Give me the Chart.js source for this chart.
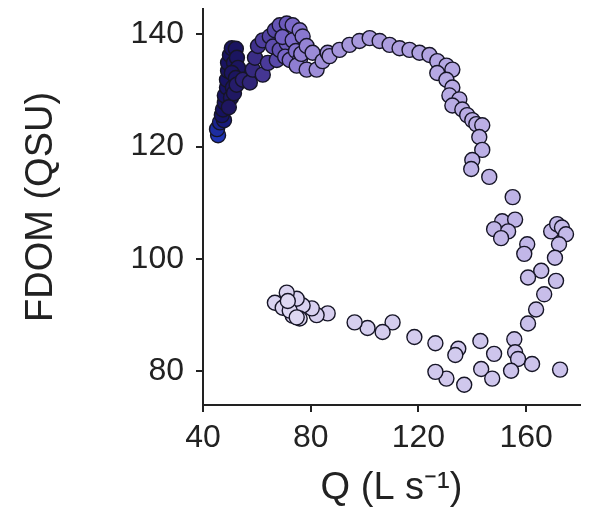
<!DOCTYPE html>
<html>
<head>
<meta charset="utf-8">
<script src="https://cdn.jsdelivr.net/npm/chart.js@4"></script>
<style>
  html, body { margin: 0; padding: 0; background: #ffffff; }
  canvas { display: block; }
</style>
</head>
<body>
<canvas id="c" width="590" height="516"></canvas>
<script>
// Discharge Q (L s^-1), in time order
const qValues = [
  45.6, 45.2, 46.3, 47.8, 47.0, 47.4, 48.1, 48.1, 48.9, 48.9, 49.3, 49.3, 50.0, 50.7, 52.2,
  51.5, 52.6, 53.0, 50.7, 52.2, 51.1, 50.4, 49.6, 51.5, 52.5,
  54.8, 57.4, 58.5, 59.3, 60.4, 62.2, 64.1, 62.2, 64.8, 66.7, 67.4, 66.0, 68.5, 68.5, 71.1, 71.1,
  69.5, 70.5, 73.3, 73.3, 72.2, 74.5, 75.9, 77.0, 76.0, 74.8, 76.5, 78.5, 78.5, 80.7, 82.2, 84.4, 86.3,
  87.0, 90.7, 94.4, 98.1, 101.9, 105.6, 109.3, 113.0, 116.7, 120.4, 124.1, 127.0, 130.4, 132.6,
  127.0, 130.4, 132.6, 131.5, 135.2, 132.6, 136.3, 138.1, 140.0, 141.5, 143.7, 142.6, 143.7,
  140.0, 139.6, 146.3, 155.0,
  151.1, 155.9, 148.1, 153.3, 150.7, 160.4, 159.3, 169.3, 171.5, 173.3, 174.8, 172.2, 170.7,
  165.6, 160.7, 171.1, 166.7, 163.7, 160.7,
  155.6, 155.9, 157.0, 162.2, 172.6, 154.4, 148.1, 143.0, 143.3, 147.4, 137.0, 130.4, 126.3,
  134.8, 133.7, 126.3, 118.5,
  110.4, 106.7, 101.1, 96.3, 86.3, 82.2, 80.4, 77.0, 74.8, 71.1, 66.7, 69.6, 73.3, 75.9, 72.2,
  74.8, 71.5
];
// FDOM (QSU), same order
const fdomValues = [
  122.0, 123.1, 124.3, 124.7, 125.6, 126.6, 127.8, 129.1, 130.5, 131.9, 133.5, 134.9, 136.3, 137.5, 137.4,
  134.9, 135.8, 134.0, 133.1, 132.2, 130.5, 128.7, 127.0, 129.5, 131.0,
  131.9, 131.4, 133.7, 135.8, 137.9, 132.8, 134.9, 138.9, 139.6, 140.7, 135.4, 137.8, 137.2, 141.6, 141.9, 138.4,
  139.5, 136.0, 141.6, 138.9, 135.4, 137.0, 140.7, 139.6, 135.5, 134.4, 136.5, 137.9, 133.7, 136.7, 133.7, 135.2, 136.7,
  136.1, 137.2, 138.1, 138.8, 139.3, 138.8, 138.1, 137.5, 137.2, 136.7, 136.3, 135.2, 134.4, 133.7,
  133.1, 131.9, 130.5, 129.1, 128.4, 127.3, 126.6, 125.6, 124.7, 124.0, 123.8, 121.7, 119.4,
  117.6, 116.0, 114.6, 111.0,
  106.7, 107.0, 105.3, 104.9, 103.7, 102.6, 100.9, 104.9, 106.2, 105.6, 104.4, 102.6, 100.2,
  97.9, 96.7, 96.1, 93.7, 91.0, 88.5,
  85.7, 83.4, 82.2, 81.3, 80.3, 80.1, 83.1, 85.4, 80.4, 78.7, 77.6, 78.7, 79.9,
  84.0, 82.9, 85.0, 86.1,
  88.7, 87.0, 87.7, 88.7, 90.3, 90.0, 91.2, 91.7, 92.9, 94.0, 92.2, 91.3, 89.9, 89.4, 90.8,
  89.6, 92.5
];
const xTickValues = [40, 80, 120, 160];
const yTickValues = [80, 100, 120, 140];
const xLabel = 'Q (L s\u207B\u00B9)';
const yLabel = 'FDOM (QSU)';

// colour ramp over time (style only)
const stops = [
  [0.00, [31, 53, 181]],
  [0.03, [22, 18, 96]],
  [0.16, [30, 22, 96]],
  [0.22, [74, 58, 154]],
  [0.30, [120, 102, 200]],
  [0.40, [162, 146, 218]],
  [0.50, [181, 168, 227]],
  [0.65, [192, 181, 231]],
  [1.00, [222, 216, 242]]
];
function rampColor(t) {
  for (let i = 1; i < stops.length; i++) {
    if (t <= stops[i][0]) {
      const [t0, c0] = stops[i - 1];
      const [t1, c1] = stops[i];
      const f = (t - t0) / (t1 - t0);
      const c = c0.map((v, k) => Math.round(v + (c1[k] - v) * f));
      return `rgb(${c[0]},${c[1]},${c[2]})`;
    }
  }
  const c = stops[stops.length - 1][1];
  return `rgb(${c[0]},${c[1]},${c[2]})`;
}

const points = qValues.map((q, i) => ({ x: q, y: fdomValues[i] }));
const n = points.length;
const fills = points.map((_, i) => rampColor(i / (n - 1)));

const FONT = "'Liberation Sans', Arial, Helvetica, sans-serif";
const INK = '#222222';

new Chart(document.getElementById('c'), {
  type: 'scatter',
  data: {
    datasets: [{
      data: points,
      pointRadius: 7.5,
      pointHoverRadius: 7.5,
      pointBackgroundColor: fills,
      pointBorderColor: '#161526',
      pointBorderWidth: 1.4
    }]
  },
  options: {
    responsive: false,
    animation: false,
    events: [],
    layout: { padding: { top: 5, right: 10, left: 0, bottom: 0 } },
    plugins: { legend: { display: false }, tooltip: { enabled: false } },
    scales: {
      x: {
        type: 'linear',
        min: 40,
        max: 180,
        afterBuildTicks: (s) => { s.ticks = xTickValues.map(v => ({ value: v })); },
        afterFit: (s) => { s.height = 111; s.paddingLeft = 0; s.paddingRight = 0; },
        border: { display: true, color: INK, width: 2 },
        grid: { display: true, drawOnChartArea: false, drawTicks: true, tickLength: 7, color: INK, lineWidth: 2 },
        ticks: { color: INK, padding: 7, font: { family: FONT, size: 32 }, maxRotation: 0 },
        title: { display: true, text: xLabel, color: INK, font: { family: FONT, size: 38 }, padding: { top: 0, bottom: 5 } }
      },
      y: {
        type: 'linear',
        min: 74,
        max: 144.5,
        afterBuildTicks: (s) => { s.ticks = yTickValues.map(v => ({ value: v })); },
        afterFit: (s) => { s.width = 203; s.paddingTop = 0; s.paddingBottom = 0; },
        border: { display: true, color: INK, width: 2 },
        grid: { display: true, drawOnChartArea: false, drawTicks: true, tickLength: 7, color: INK, lineWidth: 2 },
        ticks: { color: INK, padding: 12, font: { family: FONT, size: 32 } },
        title: { display: true, text: yLabel, color: INK, font: { family: FONT, size: 38 }, padding: { top: 19, bottom: 0 } }
      }
    }
  }
});
</script>
</body>
</html>
